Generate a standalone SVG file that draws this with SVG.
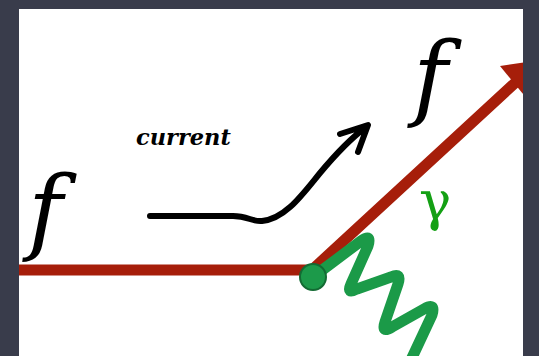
<svg xmlns="http://www.w3.org/2000/svg" width="539" height="356" viewBox="0 0 539 356">
  <defs>
    <style>
      .fermion { fill: none; stroke: #a61e0a; stroke-width: 11; stroke-linejoin: miter; }
      .head { fill: #a61e0a; }
      .photon { fill: none; stroke: #1b9a48; stroke-width: 11; stroke-linecap: round; stroke-linejoin: round; }
      .current-arrow { fill: none; stroke: #000; stroke-width: 6; stroke-linecap: round; stroke-linejoin: round; }
    </style>
  </defs>
  <rect x="0" y="0" width="539" height="356" fill="#393c4b"/>
  <rect x="19" y="9" width="504" height="347" fill="#ffffff"/>

  <g id="connectors">
    <path id="fermion-line" class="fermion" d="M10,270 L312,270 L516,82"/>
    <polygon id="fermion-head" class="head" points="500,66 540,60 528,100"/>
    <path id="photon" class="photon" d="M313,277 L361,241 Q372,233 368,246 L351,284 Q346,295 357,289 L391,277 Q402,272 398,284 L385,322 Q381,334 392,327 L424,309 Q436,302 432,315 L410,362"/>
    <path id="current-arrow" class="current-arrow" d="M150,216 L233,216 C248,216 252,222 262,221 C285,219 302,195 320,173 C335,155 350,139 366,127 M340,134 L368,125 L358,152"/>
  </g>

  <g id="vertex">
    <circle cx="313" cy="277" r="13" fill="#1c9a4a" stroke="#136b33" stroke-width="2"/>
  </g>
  <g id="label-f-in">
    <text x="28" y="243" font-family="DejaVu Serif, serif" font-style="italic" font-size="94" fill="#000">f</text>
  </g>
  <g id="label-f-out">
    <text x="413" y="109" font-family="DejaVu Serif, serif" font-style="italic" font-size="94" fill="#000">f</text>
  </g>
  <g id="label-current">
    <text x="136" y="145" font-family="DejaVu Serif, serif" font-style="italic" font-weight="bold" font-size="22.5" fill="#000">current</text>
  </g>
  <g id="label-gamma">
    <text x="419" y="220" font-family="DejaVu Serif, serif" font-size="54" fill="#14a014">γ</text>
  </g>

  <path id="frame" fill="#393c4b" fill-rule="evenodd" d="M0,0H539V356H0Z M19,9H523V356H19Z"/>
</svg>
